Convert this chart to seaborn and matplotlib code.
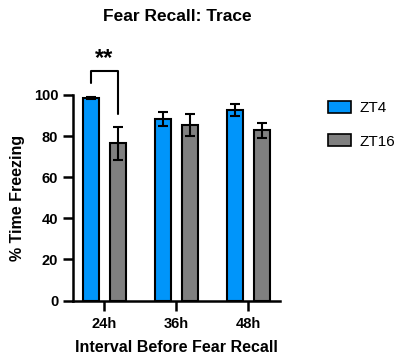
import numpy as np
import pandas as pd
import matplotlib
matplotlib.use('Agg')
import matplotlib.pyplot as plt
import seaborn as sns
from matplotlib.patches import Patch

# data
intervals = ['24h', '36h', '48h']
groups = ['ZT4', 'ZT16']
zt4_mean = [98.4, 88.3, 92.6]
zt4_sem = [0.6, 3.6, 3.0]
zt16_mean = [76.5, 85.3, 82.8]
zt16_sem = [8.0, 5.5, 3.5]
colors = ['#0095FA', '#808080']

df = pd.DataFrame({
    'interval': intervals * 2,
    'group': [groups[0]] * 3 + [groups[1]] * 3,
    'freezing': zt4_mean + zt16_mean,
    'sem': zt4_sem + zt16_sem,
})

sns.set_style('ticks')
plt.rcParams['font.family'] = ['Liberation Sans', 'DejaVu Sans']
plt.rcParams['text.color'] = 'black'
plt.rcParams['axes.labelcolor'] = 'black'
plt.rcParams['xtick.color'] = 'black'
plt.rcParams['ytick.color'] = 'black'
plt.rcParams['axes.edgecolor'] = 'black'

fig = plt.figure(figsize=(4.0, 3.57), dpi=100)
ax = fig.add_axes([0.182, 0.158, 0.518, 0.576])

sns.barplot(data=df, x='interval', y='freezing', hue='group', order=intervals,
            hue_order=groups, palette=colors, saturation=1, width=0.75, gap=0.43,
            edgecolor='black', linewidth=1.5, errorbar=None, legend=False, ax=ax)

# error bars on top of the bars (patches come hue level by hue level)
bars = ax.patches[:len(df)]
xs = [b.get_x() + b.get_width() / 2 for b in bars]
ax.errorbar(xs, df['freezing'], yerr=df['sem'], fmt='none', ecolor='black',
            elinewidth=1.5, capsize=3.5, capthick=1.5, zorder=5)

ax.set_xlim(-0.44, 2.44)
ax.set_ylim(0, 100)
ax.set_yticks([0, 20, 40, 60, 80, 100])
sns.despine(ax=ax)
for s in ['left', 'bottom']:
    ax.spines[s].set_linewidth(1.8)
ax.tick_params(axis='both', direction='out', length=7, width=1.8, labelsize=10.5)
ax.tick_params(axis='x', pad=5)
for lab in ax.get_xticklabels() + ax.get_yticklabels():
    lab.set_fontweight('bold')

ax.set_xlabel('Interval Before Fear Recall', fontsize=11.5, fontweight='bold', labelpad=6)
ax.set_ylabel('% Time Freezing', fontsize=11.5, fontweight='bold', labelpad=6)

# significance bracket between 24h bars
x1, x2 = xs[0], xs[3]
ax.plot([x1, x1, x2, x2], [105.7, 111.8, 111.8, 90.6], color='black', lw=1.5,
        clip_on=False)
ax.text((x1 + x2) / 2, 112, '**', ha='center', va='bottom', fontsize=17,
        fontweight='bold')

fig.text(0.443, 0.955, 'Fear Recall: Trace', ha='center', va='center',
         fontsize=12.5, fontweight='bold')

handles = [Patch(facecolor=c, edgecolor='black', linewidth=1.2) for c in colors]
fig.legend(handles, groups, loc='upper left', bbox_to_anchor=(0.805, 0.735),
           frameon=False, fontsize=11, handlelength=1.5, handleheight=0.85,
           labelspacing=1.25, handletextpad=0.55, borderaxespad=0)

fig.savefig('out.png', dpi=100, facecolor='white')
